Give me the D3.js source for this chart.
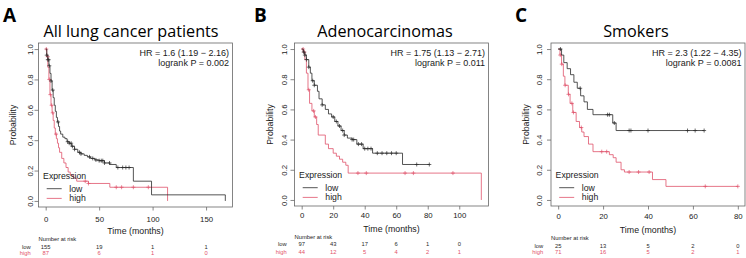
<!DOCTYPE html>
<html lang="en">
<head>
<meta charset="UTF-8">
<title>Kaplan-Meier panels</title>
<script src="https://d3js.org/d3.v7.min.js"></script>
<style>
  body { margin: 0; background: #fff; }
  text { font-family: "Liberation Sans", Arial, sans-serif; fill: #1a1a1a; }
  .title { font-family: "Open Sans", Lato, sans-serif; fill: #000; }
  .letter { font-family: "Open Sans", Lato, sans-serif; font-weight: bold; fill: #000; }
</style>
</head>
<body>
<svg id="canvas" width="746" height="258"></svg>
<script>
// ---- data ----
var panelLetters = ["A", "B", "C"];
var panelTitles = ["All lung cancer patients", "Adenocarcinomas", "Smokers"];
var hrLabels = ["HR = 1.6 (1.19 \u2212 2.16)", "HR = 1.75 (1.13 \u2212 2.71)", "HR = 2.3 (1.22 \u2212 4.35)"];
var pLabels = ["logrank P = 0.002", "logrank P = 0.011", "logrank P = 0.0081"];

// A: all patients
var aLowTime  = [0, 1, 2, 3, 4, 5, 6, 7, 8, 9, 10, 11, 12, 13, 14, 16, 18, 20, 22, 24, 27, 30, 33, 36, 39, 42, 46, 50, 55, 60, 66, 82, 99, 168];
var aLowSurv  = [1, .96, .93, .89, .84, .79, .73, .68, .63, .59, .55, .52, .49, .46, .44, .42, .41, .39, .38, .36, .34, .32, .31, .30, .29, .28, .27, .265, .25, .24, .22, .13, .04, 0];
var aHighTime = [0, 1, 2, 3, 4, 5, 6, 7, 8, 9, 10, 11, 12, 13, 15, 17, 19, 21, 23, 26, 29, 40, 60, 114];
var aHighSurv = [1, .95, .88, .80, .70, .63, .58, .53, .48, .44, .41, .38, .35, .32, .28, .25, .22, .19, .17, .15, .13, .115, .09, 0];
var aLowCens  = [1, 2, 2.8, 3.4, 5, 6.6, 11.6, 20.6, 22, 23.8, 25, 27, 31.6, 33, 41, 44, 47, 50, 52, 53.4, 55, 59.7, 67.5, 72, 75, 78];
var aHighCens = [0.6, 1.9, 3.4, 4.4, 5.6, 6.6, 9.7, 37, 40, 66, 71, 82, 96];
var aTicks = [0, 50, 100, 150];
var aRiskLow = [155, 19, 1, 1];
var aRiskHigh = [87, 6, 1, 0];

// B: adenocarcinomas
var bLowTime  = [0, 1, 2, 3, 4.5, 5.5, 6.5, 8, 10, 11, 13, 15, 17, 19, 21, 23, 25, 27, 29, 32, 35, 39, 45, 64, 81];
var bLowSurv  = [1, .98, .96, .93, .88, .84, .79, .76, .72, .67, .63, .60, .57, .55, .52, .49, .46, .43, .41, .40, .37, .34, .31, .235, .235];
var bHighTime = [0, 1, 2, 3, 4, 5, 6.5, 8, 9.5, 10.5, 15, 17, 20, 22, 24, 26, 28, 29.5, 114];
var bHighSurv = [1, .98, .93, .84, .73, .64, .59, .55, .50, .43, .37, .34, .31, .29, .27, .25, .23, .178, 0];
var bLowCens  = [1.3, 2, 3, 4.5, 7, 8, 13, 20, 22, 24, 26, 27, 32, 33, 36, 38, 40, 42, 44, 48, 51, 54, 57, 60, 73, 81];
var bHighCens = [0.9, 1.7, 4.5, 7.6, 8.7, 35.7, 41, 65.6, 70.9, 96];
var bTicks = [0, 20, 40, 60, 80, 100];
var bRiskLow = [97, 43, 17, 6, 1, 0];
var bRiskHigh = [44, 12, 5, 4, 2, 1];

// C: smokers
var cLowTime  = [0, 1.5, 2.5, 4, 5.5, 7, 8.5, 10, 11.5, 13, 15.5, 24.3, 25.8, 65];
var cLowSurv  = [1, .96, .91, .87, .83, .78, .74, .69, .65, .60, .565, .51, .46, .46];
var cHighTime = [0, 0.8, 1.5, 2.3, 3, 4.5, 5.3, 6.5, 8, 9.5, 10.5, 11.5, 13.5, 15.5, 22.8, 24.5, 25.8, 28, 29.5, 42, 48, 80];
var cHighSurv = [1, .96, .90, .82, .76, .70, .64, .58, .52, .48, .45, .42, .37, .32, .30, .28, .25, .20, .185, .135, .09, .09];
var cLowCens  = [1, 9.8, 22, 22.8, 25, 31.6, 32.4, 40, 57.6, 61, 65];
var cHighCens = [0.9, 1.6, 3.1, 4.6, 6.1, 6.8, 10.3, 19.4, 21.6, 31.6, 35.8, 40.5, 65.5, 80];
var cTicks = [0, 20, 40, 60, 80];
var cRiskLow = [25, 13, 5, 2, 0];
var cRiskHigh = [71, 16, 5, 2, 1];

var yTicks = [0, 0.2, 0.4, 0.6, 0.8, 1.0];
var groupNames = ["low", "high"];
var lowColor = "#2a2a2a", highColor = "#DF536B";

// ---- layout ----
var layout = [
  {left: 38.5, right: 232.5, bottom: 207, letterX: 3, titleX: 131, ytl: 8.5, ylab: 25.5, tickLab: 12, timeLab: 24, risk: [32.3, 39.7, 46]},
  {left: 294.5, right: 488.5, bottom: 206, letterX: 254, titleX: 385, ytl: 10, ylab: 24.5, tickLab: 9.7, timeLab: 23.3, risk: [31.3, 38, 45.7]},
  {left: 551, right: 745, bottom: 206, letterX: 515, titleX: 636, ytl: 12, ylab: 25, tickLab: 10, timeLab: 24, risk: [32.3, 39.7, 46.3]}
];
var plotTop = 43;

var panels = [
  {low: [aLowTime, aLowSurv, aLowCens], high: [aHighTime, aHighSurv, aHighCens], ticks: aTicks, risk: [aRiskLow, aRiskHigh]},
  {low: [bLowTime, bLowSurv, bLowCens], high: [bHighTime, bHighSurv, bHighCens], ticks: bTicks, risk: [bRiskLow, bRiskHigh]},
  {low: [cLowTime, cLowSurv, cLowCens], high: [cHighTime, cHighSurv, cHighCens], ticks: cTicks, risk: [cRiskLow, cRiskHigh]}
];

var svg = d3.select("#canvas");

panels.forEach(function(p, i) {
  var L = layout[i];
  var g = svg.append("g");

  var xMax = d3.max([d3.max(p.low[0]), d3.max(p.high[0]), d3.max(p.low[2]), d3.max(p.high[2])]);
  var x = d3.scaleLinear().domain([-0.04 * xMax, 1.04 * xMax]).range([L.left, L.right]);
  var y = d3.scaleLinear().domain([-0.04, 1.04]).range([L.bottom, plotTop]);

  // letter + title
  g.append("text").attr("class", "letter").attr("x", L.letterX).attr("y", 22)
    .attr("font-size", 19).text(panelLetters[i]);
  g.append("text").attr("class", "title").attr("x", L.titleX).attr("y", 37)
    .attr("text-anchor", "middle").attr("font-size", 16.2).text(panelTitles[i]);

  // axes
  var yAxis = g.append("g").attr("transform", "translate(" + L.left + ",0)")
    .call(d3.axisLeft(y).tickValues(yTicks).tickSize(4).tickFormat(d3.format(".1f")));
  yAxis.select(".domain").remove();
  yAxis.selectAll(".tick line").attr("stroke", "#555").attr("stroke-width", 0.7);
  yAxis.selectAll(".tick text")
    .attr("transform", "rotate(-90)").attr("x", 0).attr("y", -L.ytl).attr("dy", null)
    .attr("dominant-baseline", "central").attr("text-anchor", "middle")
    .attr("font-size", 7.8).attr("font-family", "Liberation Sans, Arial, sans-serif").attr("fill", "#1a1a1a");

  var xAxis = g.append("g").attr("transform", "translate(0," + L.bottom + ")")
    .call(d3.axisBottom(x).tickValues(p.ticks).tickSize(3.5).tickFormat(d3.format("d")));
  xAxis.select(".domain").remove();
  xAxis.selectAll(".tick line").attr("stroke", "#555").attr("stroke-width", 0.7);
  xAxis.selectAll(".tick text").attr("y", L.tickLab).attr("dy", null)
    .attr("dominant-baseline", "central")
    .attr("font-size", 7.8).attr("font-family", "Liberation Sans, Arial, sans-serif").attr("fill", "#1a1a1a");

  // axis titles
  g.append("text").attr("transform", "translate(" + (L.left - L.ylab) + "," + ((plotTop + L.bottom) / 2) + ") rotate(-90)")
    .attr("text-anchor", "middle").attr("dominant-baseline", "central")
    .attr("font-size", 8.7).text("Probability");
  g.append("text").attr("x", (L.left + L.right) / 2).attr("y", L.bottom + L.timeLab)
    .attr("text-anchor", "middle").attr("dominant-baseline", "central")
    .attr("font-size", 8.8).text("Time (months)");

  // curves
  var line = d3.line().curve(d3.curveStepAfter)
    .x(function(d) { return x(d[0]); })
    .y(function(d) { return y(d[1]); });

  [["high", highColor], ["low", lowColor]].forEach(function(s) {
    var c = p[s[0]];
    g.append("path").datum(d3.zip(c[0], c[1]))
      .attr("fill", "none").attr("stroke", s[1]).attr("stroke-width", 0.8)
      .attr("d", line);
    var cens = c[2].map(function(t) {
      var k = d3.bisectRight(c[0], t) - 1;
      return [t, c[1][Math.max(0, k)]];
    });
    g.selectAll(null).data(cens).enter().append("path")
      .attr("transform", function(d) { return "translate(" + x(d[0]) + "," + y(d[1]) + ")"; })
      .attr("d", "M-2,0H2M0,-2V2")
      .attr("stroke", s[1]).attr("stroke-width", 0.7).attr("fill", "none");
  });

  // box
  g.append("rect").attr("x", L.left).attr("y", plotTop)
    .attr("width", L.right - L.left).attr("height", L.bottom - plotTop)
    .attr("fill", "none").attr("stroke", "#666").attr("stroke-width", 0.8);

  // HR text
  g.append("text").attr("x", L.right - 3.5).attr("y", plotTop + 10)
    .attr("text-anchor", "end").attr("dominant-baseline", "central")
    .attr("font-size", 9).text(hrLabels[i]);
  g.append("text").attr("x", L.right - 3.5).attr("y", plotTop + 20)
    .attr("text-anchor", "end").attr("dominant-baseline", "central")
    .attr("font-size", 9).text(pLabels[i]);

  // legend
  g.append("text").attr("x", L.left + 4.6).attr("y", L.bottom - 31)
    .attr("dominant-baseline", "central").attr("font-size", 8.7).text("Expression");
  [[lowColor, -18.3], [highColor, -8.6]].forEach(function(s, k) {
    g.append("line").attr("x1", L.left + 8.2).attr("x2", L.left + 23.2)
      .attr("y1", L.bottom + s[1]).attr("y2", L.bottom + s[1])
      .attr("stroke", s[0]).attr("stroke-width", 0.8);
    g.append("text").attr("x", L.left + 30.8).attr("y", L.bottom + s[1])
      .attr("dominant-baseline", "central").attr("font-size", 8.7).text(groupNames[k]);
  });

  // number at risk
  g.append("text").attr("x", L.left).attr("y", L.bottom + L.risk[0])
    .attr("dominant-baseline", "central").attr("font-size", 5.8).text("Number at risk");
  [lowColor, highColor].forEach(function(col, k) {
    g.append("text").attr("x", L.left - 7.8).attr("y", L.bottom + L.risk[k + 1])
      .attr("text-anchor", "end").attr("dominant-baseline", "central")
      .attr("font-size", 5.8).style("fill", col).text(groupNames[k]);
    g.selectAll(null).data(p.ticks).enter().append("text")
      .attr("x", function(d) { return x(d); }).attr("y", L.bottom + L.risk[k + 1])
      .attr("text-anchor", "middle").attr("dominant-baseline", "central")
      .attr("font-size", 5.8).style("fill", col)
      .text(function(d, j) { return p.risk[k][j]; });
  });
});
</script>
</body>
</html>
